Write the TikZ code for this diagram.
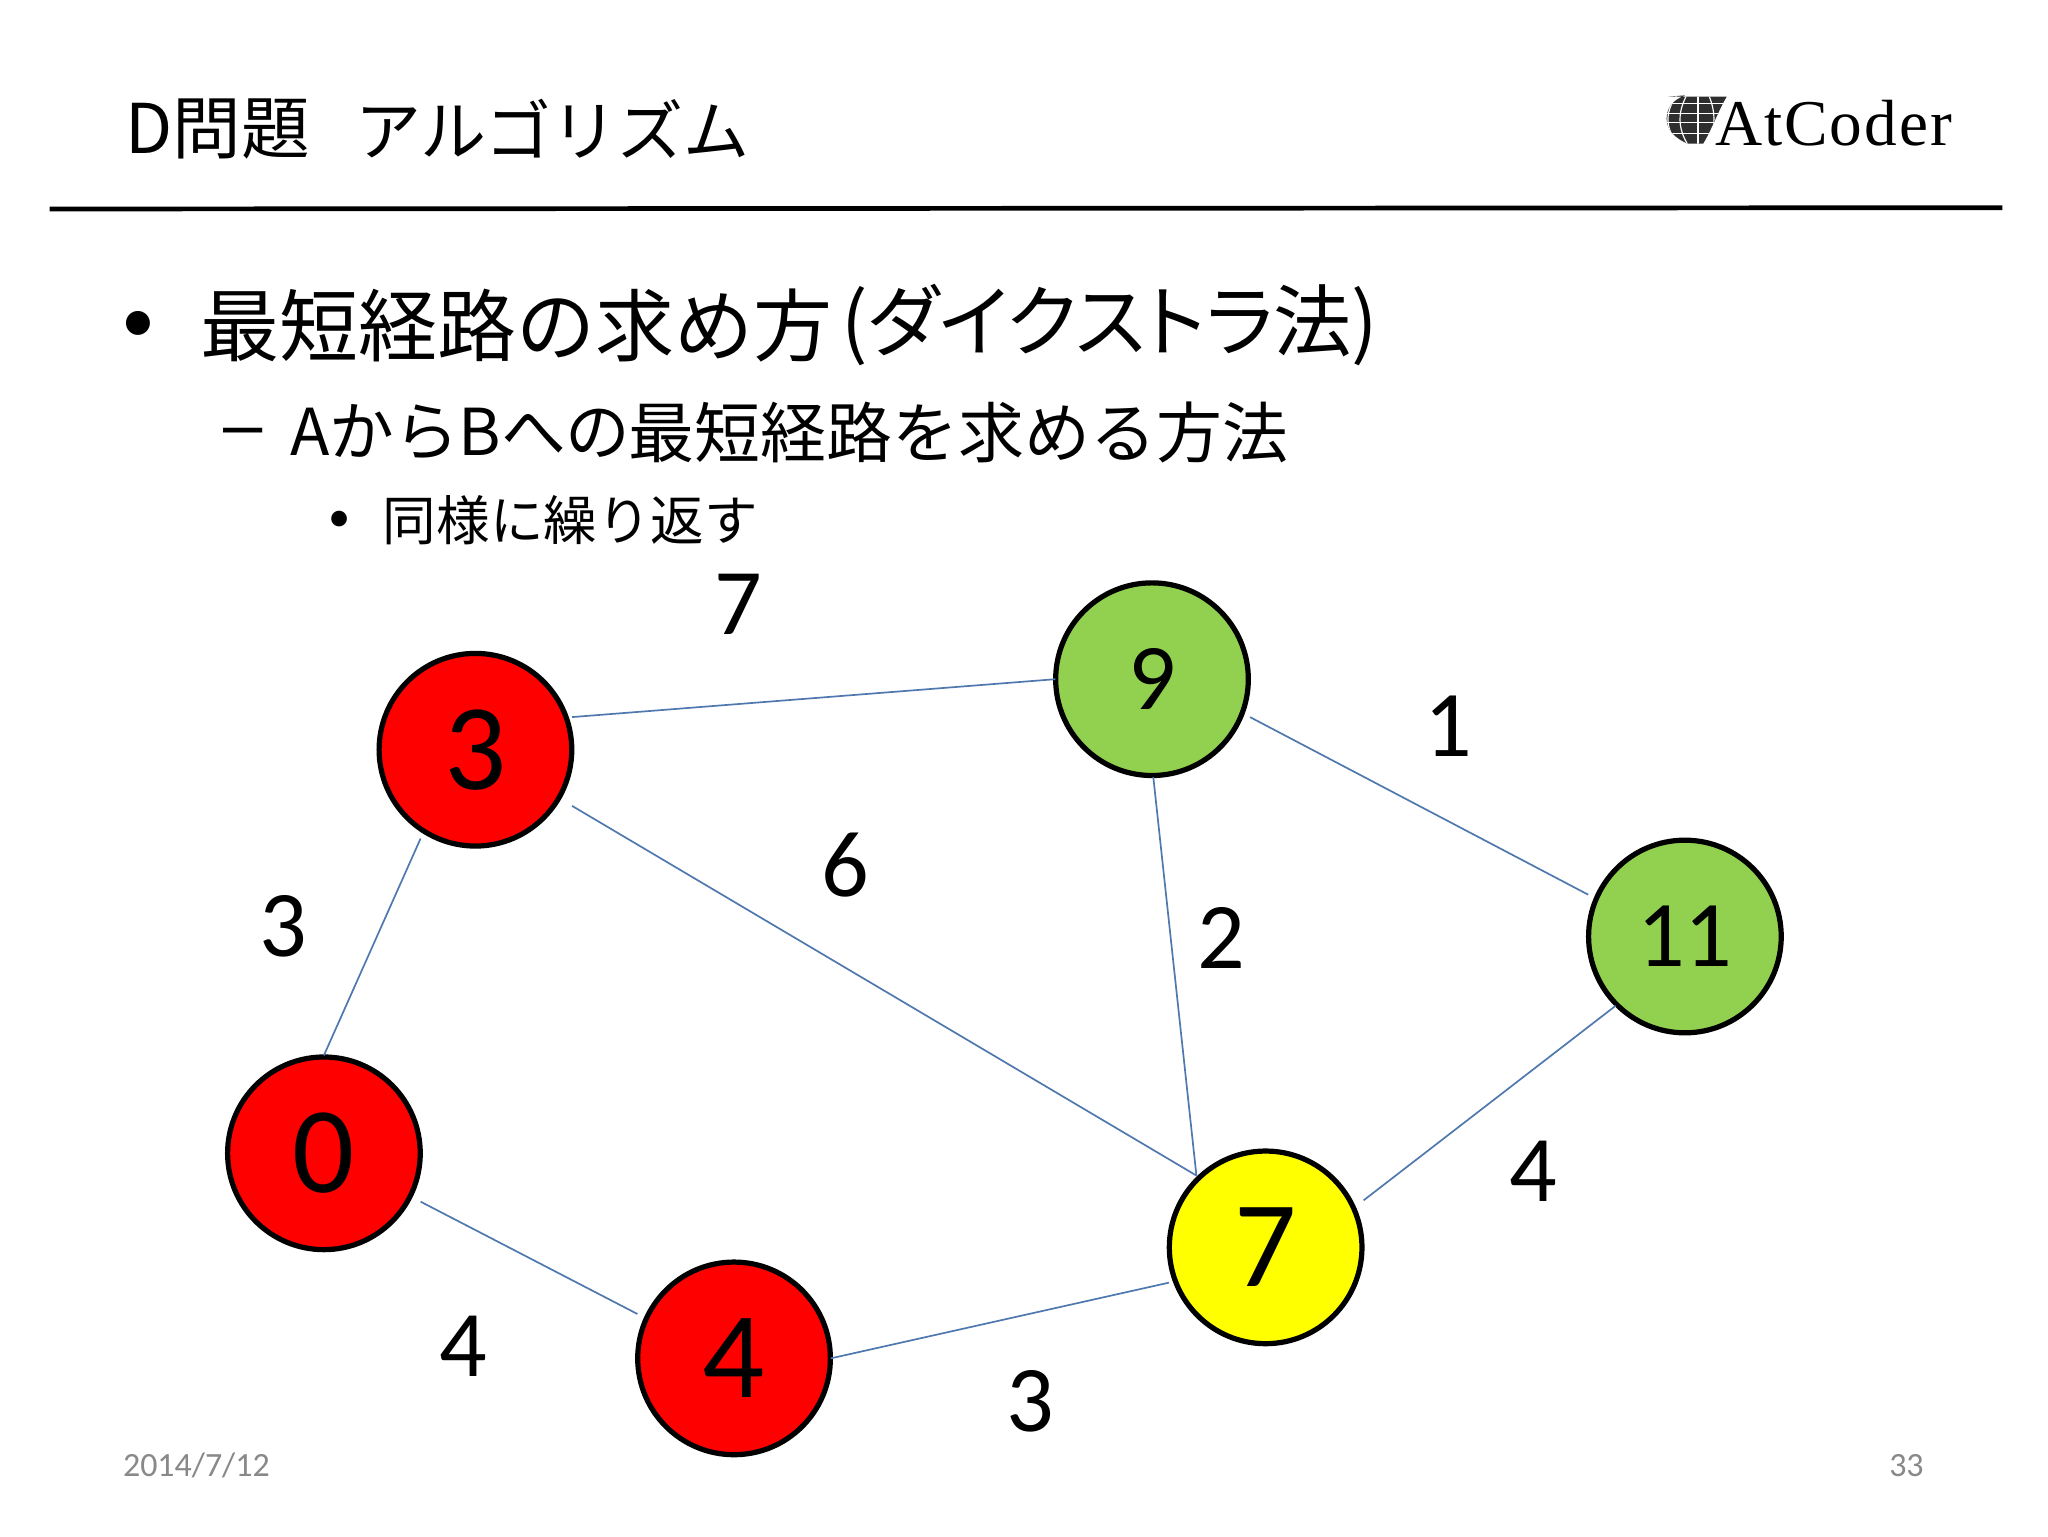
\documentclass[tikz,border=0pt]{standalone}
\usepackage{fontspec}
\setmainfont{Carlito}
\newfontfamily\cjk{Noto Sans CJK JP}
\newfontfamily\cjkp[RawFeature=+palt]{Noto Sans CJK JP}
\newfontfamily\logofont[LetterSpace=3]{Liberation Serif}
\newfontfamily\dashfont{Liberation Sans}
\newcommand{\fs}[1]{\fontsize{#1}{#1}\selectfont}
\definecolor{nodegreen}{RGB}{146,208,80}
\definecolor{nodered}{RGB}{255,0,0}
\definecolor{nodeyellow}{RGB}{255,255,0}
\definecolor{edgeblue}{RGB}{79,120,175}
\definecolor{dategrey}{RGB}{137,137,137}
\tikzset{
 vertex/.style={circle,draw=black,line width=4pt,minimum size=147.5pt,inner sep=0pt,outer sep=0pt,text=black},
 bigdigit/.style={font=\fs{94}},
 smalldigit/.style={font=\fs{72}},
 weight/.style={font=\fs{72},text=black,inner sep=0pt},
 edge/.style={draw=edgeblue,line width=1.3pt},
 jtext/.style={anchor=west,inner sep=0pt,text=black},
}
\usetikzlibrary{calc}
\begin{document}
\begin{tikzpicture}[x=1pt,y=-1pt]
\useasboundingbox (0,0) rectangle (1568,1176);
\fill[white] (0,0) rectangle (1568,1176);
% header
\node[jtext,font=\cjk\fs{52.5}] (title) at (96,99) {D問題};
\node[jtext,font=\cjk\fs{50.5}] (title2) at (272,99) {アルゴリズム};
\coordinate (ruleL) at (38,160);
\coordinate (ruleR) at (1533,159);
\draw[line width=3.6pt,black] (ruleL) -- (ruleR);
% logo
\begin{scope}
\clip (1277,74) -- (1322,74) .. controls (1316,84) and (1311,98) .. (1304,110) -- (1292,110) .. controls (1283,106) and (1276,100) .. (1276,91) .. controls (1276,83) and (1280,77) .. (1290,73) -- cycle;
\fill[black!82] (1270,68) rectangle (1330,115);
\foreach \yy in {79,87,94,102}{\draw[white,line width=0.9pt] (1270,\yy) -- (1330,\yy);}
\draw[white,line width=0.9pt] (1300,68) -- (1300,115);
\draw[white,line width=0.9pt] (1307,70) .. controls (1314,85) and (1314,98) .. (1307,112);
\draw[white,line width=0.9pt] (1293,70) .. controls (1284,85) and (1284,98) .. (1293,112);
\draw[white,line width=0.9pt] (1286,70) .. controls (1274,85) and (1274,98) .. (1286,112);
\end{scope}
\node[anchor=west,inner sep=0pt,font=\logofont\fs{50},text=black] (logo) at (1313,94) {AtCoder};
% bullets
\node[jtext,font=\fs{52}] (b1) at (93,250) {•};
\node[jtext,font=\cjk\fs{60.5}] (t1) at (153,249) {最短経路の求め方};
\node[jtext,font=\cjkp\fs{60}] (t1a) at (644,249) {(ダイクストラ法)};
\node[jtext,font=\dashfont\fs{54}] (b2) at (171,336) {–};
\node[jtext,font=\cjk\fs{49.5}] (t2) at (222,331) {AからBへの};
\node[jtext,font=\cjk\fs{50.5}] (t2a) at (481,331) {最短経路を求める方法};
\node[jtext,font=\fs{34}] (b3) at (251,399) {•};
\node[jtext,font=\cjk\fs{41}] (t3) at (293,398) {同様に繰り返す};
% footer
\node[anchor=west,inner sep=0pt,font=\fs{26},text=dategrey] (date) at (94,1122) {2014/7/12};
\node[anchor=east,inner sep=0pt,font=\fs{26},text=dategrey] (page) at (1473,1122) {33};
% vertices
\node[vertex,fill=nodered,bigdigit] (n3) at (364,574) {3};
\node[vertex,fill=nodegreen,smalldigit] (n9) at (882,520) {9};
\node[vertex,fill=nodegreen,smalldigit] (n11) at (1290,717) {11};
\node[vertex,fill=nodeyellow,bigdigit] (n7) at (969,955) {7};
\node[vertex,fill=nodered,bigdigit] (n4) at (562,1040) {4};
\node[vertex,fill=nodered,bigdigit] (n0) at (248,883) {0};
% edges
\draw[edge] ($(n3)+(74,-25)$) -- ($(n9)+(-74,0)$);
\draw[edge] ($(n3)+(74,43)$) -- ($(n7)+(-53,-55)$);
\draw[edge] ($(n3)+(-42,68)$) -- ($(n0)+(0,-75)$);
\draw[edge] ($(n9)+(1,75)$) -- ($(n7)+(-53,-55)$);
\draw[edge] ($(n9)+(75,29)$) -- ($(n11)+(-74,-32)$);
\draw[edge] ($(n11)+(-53,53)$) -- ($(n7)+(75,-36)$);
\draw[edge] ($(n0)+(74,37)$) -- ($(n4)+(-74,-34)$);
\draw[edge] ($(n4)+(74,0)$) -- ($(n7)+(-74,27)$);
% weights
\node[weight] (w1) at (565,463) {7};
\node[weight] (w2) at (1109,556) {1};
\node[weight] (w3) at (647,662) {6};
\node[weight] (w4) at (217,709) {3};
\node[weight] (w5) at (935,718) {2};
\node[weight] (w6) at (1174,897) {4};
\node[weight] (w7) at (355,1031) {4};
\node[weight] (w8) at (789,1073) {3};
\end{tikzpicture}
\end{document}
